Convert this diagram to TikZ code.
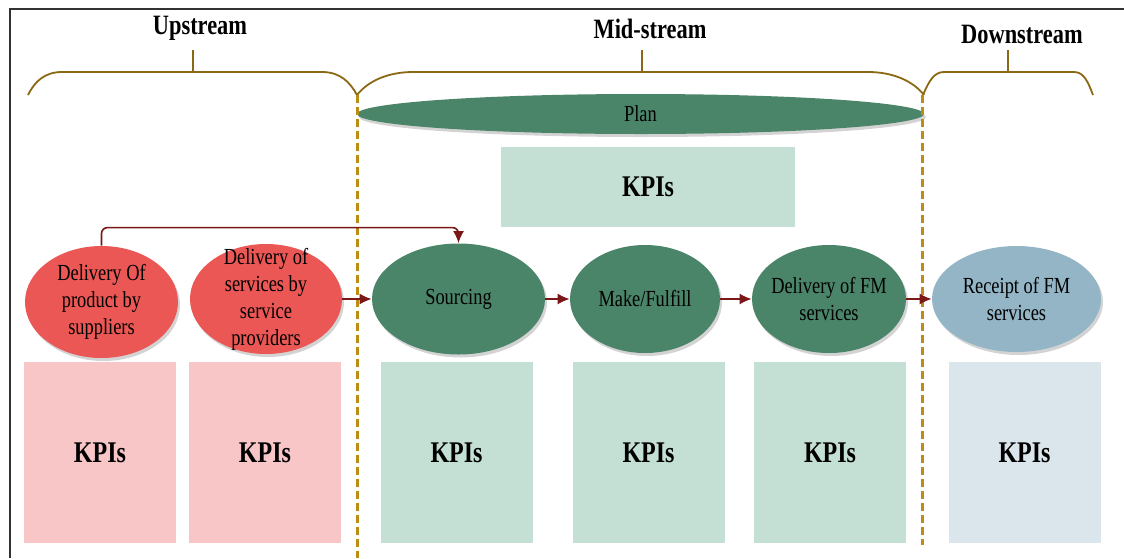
\documentclass[tikz,border=0pt]{standalone}
\usepackage{fontspec}
\setmainfont[FakeStretch=0.8]{Liberation Serif}
\usetikzlibrary{positioning,shapes,shadows,arrows.meta}
\definecolor{ellred}{RGB}{235,87,85}
\definecolor{ellgrn}{RGB}{74,132,105}
\definecolor{ellblu}{RGB}{147,181,198}
\definecolor{boxred}{RGB}{248,198,199}
\definecolor{boxgrn}{RGB}{196,223,212}
\definecolor{boxblu}{RGB}{219,230,236}
\definecolor{arrred}{RGB}{122,24,24}
\definecolor{bracecol}{RGB}{139,105,20}
\definecolor{dashcol}{RGB}{188,140,20}
\definecolor{framecol}{RGB}{50,50,50}
\tikzstyle{ebox}=[ellipse, draw=none, inner sep=-14pt, align=center,
                  font=\fontsize{11.5}{13.5}\selectfont,
                  drop shadow={shadow xshift=1pt, shadow yshift=-1.5pt, opacity=0.35}]
\tikzstyle{redell}=[ebox, fill=ellred]
\tikzstyle{grnell}=[ebox, fill=ellgrn]
\tikzstyle{bluell}=[ebox, fill=ellblu]
\tikzstyle{kpibox}=[rectangle, draw=none, minimum width=76pt, minimum height=90.5pt,
                    inner sep=0pt, font=\bfseries\fontsize{15}{18}\selectfont]
\tikzstyle{ttl}=[font=\bfseries\fontsize{14}{16}\selectfont]
\tikzstyle{pline}=[-{Latex[length=6pt,width=5.5pt]}, draw=arrred, line width=0.8pt]
\tikzstyle{brline}=[draw=bracecol, line width=0.9pt]
\tikzstyle{dline}=[draw=dashcol, line width=1.5pt, dash pattern=on 4pt off 2pt]

\begin{document}
\begin{tikzpicture}[x=0.5pt, y=-0.5pt]
\useasboundingbox (0,0) rectangle (1124,558);
\draw[framecol, line width=1pt] (10,558) -- (10,9) -- (1124,9);

\node (UP) [ttl] at (200,28) {Upstream};
\node (MID) [ttl] at (650,29) {Mid-stream};
\node (DOWN) [ttl] at (1022,34) {Downstream};

\draw[brline] (28,95) .. controls (35,81) and (45,72) .. (62,72) -- (322,72)
   .. controls (340,72) and (350,82) .. (357,95);
\draw[brline] (193,50) -- (193,72);
\draw[brline] (357,95) .. controls (368,81) and (388,72) .. (413,72) -- (868,72)
   .. controls (893,72) and (913,81) .. (924,95);
\draw[brline] (642,50) -- (642,72);
\draw[brline] (923,95) .. controls (929,81) and (934,72) .. (944,72) -- (1074,72)
   .. controls (1084,72) and (1088,82) .. (1093,95);
\draw[brline] (1008,50) -- (1008,72);

\node (PLAN) [grnell, inner sep=0pt, minimum width=283.5pt, minimum height=20pt] at (640.5,114) {Plan};
\node (KPITOP) [kpibox, fill=boxgrn, minimum width=147pt, minimum height=40pt] at (648,187) {KPIs};

\draw[dline] (357,95) -- (357,558);
\draw[dline] (922,95) -- (922,545);

\node (DOP) [redell, minimum width=76.5pt, minimum height=56pt] at (101.5,302) {Delivery Of\\product by\\suppliers};
\node (DOS) [redell, minimum width=76pt, minimum height=55pt] at (266,299) {Delivery of\\services by\\service\\providers};
\node (SRC) [grnell, minimum width=86.5pt, minimum height=55.5pt] at (458.5,299) {Sourcing};
\node (MAKE) [grnell, minimum width=75pt, minimum height=54pt] at (645,299) {Make/Fulfill};
\node (DFM) [grnell, minimum width=77pt, minimum height=54pt] at (829,299) {Delivery of FM\\services};
\node (REC) [bluell, minimum width=84.5pt, minimum height=53pt] at (1016.5,299) {Receipt of FM\\services};

\draw[pline] (DOS.east) -- (SRC.west);
\draw[pline] (SRC.east) -- (MAKE.west);
\draw[pline] (MAKE.east) -- (DFM.west);
\draw[pline] (DFM.east) -- (REC.west);
\draw[pline, rounded corners=3pt] (DOP.north) -- ++(0,-18) -| (SRC.north);

\node (KPI1) [kpibox, fill=boxred] at (100,452.5) {KPIs};
\node (KPI2) [kpibox, fill=boxred] at (265,452.5) {KPIs};
\node (KPI3) [kpibox, fill=boxgrn] at (456.5,452.5) {KPIs};
\node (KPI4) [kpibox, fill=boxgrn] at (648.5,452.5) {KPIs};
\node (KPI5) [kpibox, fill=boxgrn] at (830,452.5) {KPIs};
\node (KPI6) [kpibox, fill=boxblu] at (1024.5,452.5) {KPIs};
\end{tikzpicture}
\end{document}
